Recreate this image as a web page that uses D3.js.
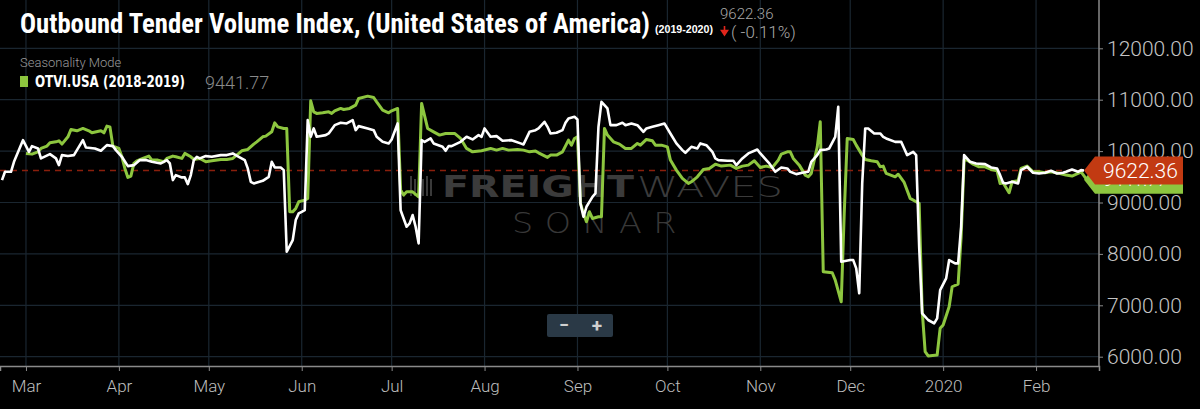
<!DOCTYPE html>
<html>
<head>
<meta charset="utf-8">
<script src="https://cdn.jsdelivr.net/npm/d3@7"></script>
<style>
  html, body { margin: 0; padding: 0; background: #000; }
  svg { display: block; }
</style>
</head>
<body>
<svg id="chart" width="1200" height="409"></svg>
<script>
// OTVI.USA 2019-2020 (white)
const currentDates = ["2019-02-21","2019-02-22","2019-02-24","2019-02-25","2019-02-28","2019-03-02","2019-03-03","2019-03-05","2019-03-06","2019-03-09","2019-03-11","2019-03-12","2019-03-13","2019-03-15","2019-03-17","2019-03-20","2019-03-21","2019-03-24","2019-03-26","2019-03-28","2019-03-30","2019-03-31","2019-04-02","2019-04-04","2019-04-06","2019-04-08","2019-04-10","2019-04-12","2019-04-15","2019-04-17","2019-04-18","2019-04-19","2019-04-20","2019-04-22","2019-04-23","2019-04-24","2019-04-25","2019-04-26","2019-04-27","2019-04-28","2019-04-30","2019-05-02","2019-05-05","2019-05-07","2019-05-09","2019-05-11","2019-05-13","2019-05-14","2019-05-15","2019-05-16","2019-05-19","2019-05-21","2019-05-22","2019-05-23","2019-05-25","2019-05-26","2019-05-27","2019-05-29","2019-05-30","2019-05-31","2019-06-01","2019-06-02","2019-06-03","2019-06-04","2019-06-05","2019-06-06","2019-06-09","2019-06-10","2019-06-12","2019-06-14","2019-06-16","2019-06-18","2019-06-19","2019-06-20","2019-06-23","2019-06-25","2019-06-26","2019-06-28","2019-06-30","2019-07-01","2019-07-03","2019-07-04","2019-07-06","2019-07-07","2019-07-08","2019-07-09","2019-07-10","2019-07-11","2019-07-12","2019-07-14","2019-07-15","2019-07-18","2019-07-19","2019-07-20","2019-07-21","2019-07-24","2019-07-26","2019-07-28","2019-07-30","2019-07-31","2019-08-01","2019-08-03","2019-08-05","2019-08-07","2019-08-10","2019-08-13","2019-08-14","2019-08-16","2019-08-18","2019-08-19","2019-08-21","2019-08-22","2019-08-23","2019-08-25","2019-08-27","2019-08-28","2019-08-29","2019-08-31","2019-09-01","2019-09-02","2019-09-03","2019-09-04","2019-09-06","2019-09-07","2019-09-08","2019-09-09","2019-09-11","2019-09-12","2019-09-14","2019-09-16","2019-09-17","2019-09-19","2019-09-21","2019-09-23","2019-09-24","2019-09-26","2019-09-28","2019-09-30","2019-10-02","2019-10-04","2019-10-06","2019-10-07","2019-10-09","2019-10-11","2019-10-12","2019-10-14","2019-10-16","2019-10-17","2019-10-18","2019-10-21","2019-10-23","2019-10-24","2019-10-26","2019-10-28","2019-10-31","2019-11-01","2019-11-03","2019-11-04","2019-11-06","2019-11-08","2019-11-10","2019-11-11","2019-11-13","2019-11-15","2019-11-17","2019-11-18","2019-11-20","2019-11-21","2019-11-23","2019-11-24","2019-11-26","2019-11-27","2019-11-28","2019-12-01","2019-12-02","2019-12-03","2019-12-04","2019-12-05","2019-12-06","2019-12-07","2019-12-09","2019-12-11","2019-12-12","2019-12-13","2019-12-16","2019-12-18","2019-12-19","2019-12-20","2019-12-22","2019-12-23","2019-12-24","2019-12-25","2019-12-27","2019-12-29","2019-12-30","2019-12-31","2020-01-02","2020-01-03","2020-01-05","2020-01-06","2020-01-07","2020-01-08","2020-01-10","2020-01-12","2020-01-15","2020-01-17","2020-01-19","2020-01-20","2020-01-21","2020-01-22","2020-01-24","2020-01-26","2020-01-27","2020-01-29","2020-01-31","2020-02-02","2020-02-04","2020-02-06","2020-02-08","2020-02-10","2020-02-11","2020-02-13","2020-02-15","2020-02-16","2020-02-17"];
const currentValues = [9436,9597,9597,9792,10213,9986,10097,10052,9858,9941,9858,9727,9922,9903,9922,10213,10071,10052,10006,10116,10097,10019,9889,9708,9727,9825,9825,9792,9760,9825,9760,9436,9533,9488,9488,9358,9533,9825,9889,9858,9903,9889,9922,9922,9955,9889,9825,9663,9403,9371,9422,9500,9792,9682,9682,9630,8042,8269,8658,8788,8819,8852,10602,10278,10441,10278,10311,10343,10505,10550,10538,10602,10408,10486,10441,10408,10278,10180,10149,10227,10538,8850,8528,8594,8755,8528,8205,10213,10180,10246,10149,10083,10006,10097,10097,10180,10278,10227,10311,10278,10441,10278,10291,10200,10213,10150,10130,10375,10408,10441,10570,10472,10343,10356,10408,10550,10635,10667,10615,8983,8722,8917,9111,9177,10472,10958,10830,10505,10505,10550,10505,10538,10505,10375,10441,10472,10505,10538,10343,10149,10019,9967,10083,10052,10149,10116,9986,9858,9825,9811,9811,9727,9858,9955,10032,9955,9825,9760,9597,9682,9663,9597,9552,9578,9597,9792,9922,10019,10032,10052,10278,10861,7847,7880,7880,7719,7233,9371,10441,10441,10343,10343,10278,10246,10180,10180,10052,9922,9986,9922,8139,6844,6714,6649,6747,7297,7524,7880,7816,7816,8528,9922,9792,9760,9746,9682,9663,9533,9384,9371,9403,9371,9630,9695,9578,9565,9578,9617,9565,9578,9597,9643,9597,9630,9622.36];

// OTVI.USA 2018-2019 seasonality (green)
const priorDates = ["2019-03-01","2019-03-03","2019-03-05","2019-03-06","2019-03-08","2019-03-09","2019-03-11","2019-03-12","2019-03-13","2019-03-15","2019-03-16","2019-03-18","2019-03-20","2019-03-22","2019-03-23","2019-03-26","2019-03-27","2019-03-28","2019-03-29","2019-03-30","2019-04-01","2019-04-02","2019-04-03","2019-04-04","2019-04-05","2019-04-06","2019-04-07","2019-04-09","2019-04-11","2019-04-12","2019-04-14","2019-04-16","2019-04-17","2019-04-19","2019-04-20","2019-04-22","2019-04-23","2019-04-25","2019-04-26","2019-04-28","2019-04-30","2019-05-02","2019-05-05","2019-05-07","2019-05-09","2019-05-11","2019-05-12","2019-05-14","2019-05-16","2019-05-17","2019-05-19","2019-05-20","2019-05-22","2019-05-23","2019-05-24","2019-05-26","2019-05-27","2019-05-28","2019-05-29","2019-05-30","2019-05-31","2019-06-02","2019-06-03","2019-06-04","2019-06-05","2019-06-06","2019-06-08","2019-06-10","2019-06-11","2019-06-12","2019-06-14","2019-06-15","2019-06-17","2019-06-19","2019-06-20","2019-06-23","2019-06-25","2019-06-26","2019-06-28","2019-06-30","2019-07-01","2019-07-03","2019-07-04","2019-07-05","2019-07-06","2019-07-08","2019-07-10","2019-07-11","2019-07-13","2019-07-15","2019-07-17","2019-07-19","2019-07-22","2019-07-24","2019-07-26","2019-07-28","2019-07-31","2019-08-03","2019-08-05","2019-08-07","2019-08-09","2019-08-12","2019-08-14","2019-08-16","2019-08-18","2019-08-19","2019-08-22","2019-08-23","2019-08-25","2019-08-27","2019-08-29","2019-08-30","2019-08-31","2019-09-01","2019-09-02","2019-09-03","2019-09-04","2019-09-05","2019-09-06","2019-09-08","2019-09-09","2019-09-10","2019-09-11","2019-09-13","2019-09-15","2019-09-17","2019-09-19","2019-09-21","2019-09-22","2019-09-24","2019-09-26","2019-09-27","2019-09-29","2019-10-01","2019-10-02","2019-10-04","2019-10-06","2019-10-08","2019-10-09","2019-10-11","2019-10-13","2019-10-15","2019-10-17","2019-10-19","2019-10-22","2019-10-24","2019-10-26","2019-10-28","2019-10-30","2019-11-01","2019-11-03","2019-11-05","2019-11-07","2019-11-08","2019-11-10","2019-11-11","2019-11-12","2019-11-14","2019-11-16","2019-11-17","2019-11-18","2019-11-20","2019-11-21","2019-11-22","2019-11-25","2019-11-26","2019-11-28","2019-11-29","2019-11-30","2019-12-02","2019-12-03","2019-12-05","2019-12-06","2019-12-08","2019-12-10","2019-12-11","2019-12-12","2019-12-13","2019-12-16","2019-12-17","2019-12-19","2019-12-21","2019-12-23","2019-12-24","2019-12-25","2019-12-26","2019-12-27","2019-12-30","2019-12-31","2020-01-01","2020-01-03","2020-01-04","2020-01-06","2020-01-07","2020-01-08","2020-01-09","2020-01-11","2020-01-13","2020-01-15","2020-01-17","2020-01-19","2020-01-20","2020-01-21","2020-01-23","2020-01-24","2020-01-26","2020-01-27","2020-01-29","2020-01-31","2020-02-02","2020-02-04","2020-02-06","2020-02-09","2020-02-11","2020-02-13","2020-02-15","2020-02-16","2020-02-18"];
const priorValues = [9955,9941,9986,10052,10097,10161,10180,10200,10136,10278,10421,10395,10441,10395,10356,10395,10356,10486,10472,10097,10052,9889,9663,9488,9514,9760,9811,9858,9903,9825,9825,9792,9858,9903,9889,9858,9955,9889,9838,9858,9792,9811,9838,9838,9858,9955,10006,10032,10136,10180,10278,10291,10375,10550,10472,10441,10441,8819,8819,8885,9014,9047,9080,10978,10764,10733,10745,10764,10733,10783,10830,10810,10830,10894,11024,11069,11043,10958,10797,10745,10783,10830,9241,9144,9208,9208,9111,10927,10441,10375,10311,10343,10343,10246,10052,9986,10006,10052,10019,10052,10019,10032,10019,9986,10000,9967,9877,9922,9922,9986,10213,10116,10246,10278,8983,8788,8625,8819,8690,8722,8722,10441,10311,10180,10136,10052,10052,10149,10116,10227,10200,10116,10116,10083,9825,9630,9468,9371,9403,9500,9643,9663,9746,9708,9727,9663,9708,9727,9811,9682,9708,9682,9825,9941,9986,9986,9858,9727,9533,9500,9565,10083,10570,7653,7633,7491,7069,8788,10246,10227,10116,9922,9838,9811,9792,9695,9708,9565,9500,9550,9390,9080,9014,8983,6908,6097,6014,6033,6552,6616,6972,7361,7414,8333,9825,9825,9746,9695,9695,9643,9617,9371,9384,9190,9403,9422,9663,9708,9597,9597,9578,9597,9565,9533,9514,9565,9597,9441.77];

const yTicks = [6000, 7000, 8000, 9000, 10000, 11000, 12000];
const currentLast = 9622.36;
const priorLast = 9441.77;
const changePct = "( -0.11%)";

const parse = d3.timeParse("%Y-%m-%d");
const current = currentDates.map((d, i) => ({date: parse(d), value: currentValues[i]}));
const prior = priorDates.map((d, i) => ({date: parse(d), value: priorValues[i]}));

const svg = d3.select("#chart");
const plotRight = 1099, plotBottom = 366;

const x = d3.scaleTime()
    .domain([new Date(2019, 1, 20, 8), new Date(2020, 1, 22)])
    .range([0, plotRight]);
const y = d3.scaleLinear()
    .domain([6000, 12000])
    .range([356.7, 48.3]);

svg.append("rect").attr("width", 1200).attr("height", 409).attr("fill", "#000");

const months = d3.timeMonth.range(new Date(2019, 2, 1), new Date(2020, 1, 22));

// grid
const grid = svg.append("g");
grid.selectAll(".gx").data(months).enter().append("line")
    .attr("x1", d => x(d)).attr("x2", d => x(d))
    .attr("y1", 0).attr("y2", plotBottom)
    .attr("stroke", "#1a2630").attr("stroke-width", 1.2);
grid.selectAll(".gy").data(yTicks).enter().append("line")
    .attr("x1", 0).attr("x2", plotRight)
    .attr("y1", d => y(d)).attr("y2", d => y(d))
    .attr("stroke", "#1a2630").attr("stroke-width", 1.2);

// watermark
const wm = svg.append("g");
for (let i = 0; i < 6; i++) {
    wm.append("rect").attr("x", 410 + i * 4).attr("y", 176 + (i % 2 ? 3 : 0))
        .attr("width", 2).attr("height", 20 - (i % 2 ? 3 : 0)).attr("fill", "#3a3a3a");
}
wm.append("text").attr("x", 442).attr("y", 197).text("FREIGHT")
    .attr("font-family", "DejaVu Sans").attr("font-weight", "bold").attr("font-size", 30)
    .attr("fill", "#3b3b3b").attr("textLength", 192).attr("lengthAdjust", "spacingAndGlyphs");
wm.append("text").attr("x", 637).attr("y", 197).text("WAVES")
    .attr("font-family", "DejaVu Sans").attr("font-weight", 200).attr("font-size", 29)
    .attr("fill", "#3b3b3b").attr("textLength", 146).attr("lengthAdjust", "spacingAndGlyphs");
wm.append("text").attr("x", 512).attr("y", 233).text("SONAR")
    .attr("font-family", "DejaVu Sans").attr("font-weight", 200).attr("font-size", 29)
    .attr("letter-spacing", 10)
    .attr("fill", "#383838").attr("textLength", 176).attr("lengthAdjust", "spacingAndGlyphs");

// reference dashed line at current value
svg.append("line")
    .attr("x1", 0).attr("x2", plotRight)
    .attr("y1", y(currentLast)).attr("y2", y(currentLast))
    .attr("stroke", "#8a1f0c").attr("stroke-width", 1.3).attr("stroke-dasharray", "6,5");

const line = d3.line().x(d => x(d.date)).y(d => y(d.value));

svg.append("path").datum(prior)
    .attr("d", line).attr("fill", "none")
    .attr("stroke", "#8dc63f").attr("stroke-width", 3).attr("stroke-linejoin", "round");
svg.append("path").datum(current)
    .attr("d", line).attr("fill", "none")
    .attr("stroke", "#ffffff").attr("stroke-width", 2.6).attr("stroke-linejoin", "round");

// axes
const xAxis = d3.axisBottom(x).tickValues(months).tickSize(5)
    .tickFormat(d => d.getMonth() === 0 ? d3.timeFormat("%Y")(d) : d3.timeFormat("%b")(d));
const gx = svg.append("g").attr("transform", `translate(0,${plotBottom})`).call(xAxis);
gx.select(".domain").attr("stroke", "#8a8a8a").attr("stroke-width", 1.5);
gx.selectAll(".tick line").attr("stroke", "#8a8a8a");
gx.selectAll(".tick text").attr("fill", "#bdbdbd").attr("font-size", 17)
    .attr("font-family", "Roboto, sans-serif").attr("font-weight", 300).attr("dy", "1.05em");

const yAxis = d3.axisRight(y).tickValues(yTicks).tickSize(4).tickPadding(4)
    .tickFormat(d3.format(".2f"));
const gy = svg.append("g").attr("transform", `translate(${plotRight},0)`).call(yAxis);
gy.select(".domain").remove();
gy.selectAll(".tick line").attr("stroke", "#8a8a8a");
gy.selectAll(".tick text").attr("fill", "#c4c4c4").attr("font-size", 21)
    .attr("font-family", "Roboto, sans-serif").attr("font-weight", 300);
svg.append("line").attr("x1", plotRight).attr("x2", plotRight)
    .attr("y1", 0).attr("y2", plotBottom).attr("stroke", "#8a8a8a").attr("stroke-width", 1.5);

// value tags on the right axis
function tag(value, yc, fill, size) {
    const tipX = x(current[current.length - 1].date);
    const g = svg.append("g");
    g.append("path")
        .attr("d", `M${tipX},${yc} L${tipX + 11},${yc - 14} L1183,${yc - 14} L1183,${yc + 14} L${tipX + 11},${yc + 14} Z`)
        .attr("fill", fill);
    g.append("text").attr("x", 1103).attr("y", yc + size / 3).text(d3.format(".2f")(value))
        .attr("fill", "#fff").attr("font-size", size)
        .attr("font-family", "Roboto, sans-serif").attr("font-weight", 300);
}
tag(priorLast, y(priorLast), "#8dc63f", 18);
tag(currentLast, y(currentLast), "#c23a12", 21);

// header
const title = svg.append("g");
title.append("text").attr("x", 20).attr("y", 33)
    .text("Outbound Tender Volume Index, (United States of America)")
    .attr("fill", "#fff").attr("font-size", 27).attr("font-weight", "bold")
    .attr("font-family", "'Roboto Condensed', 'Liberation Sans Narrow', 'DejaVu Sans Condensed', sans-serif")
    .attr("textLength", 630).attr("lengthAdjust", "spacingAndGlyphs");
title.append("text").attr("x", 655).attr("y", 33).text("(2019-2020)")
    .attr("fill", "#fff").attr("font-size", 10).attr("font-weight", "bold")
    .attr("font-family", "'Liberation Sans Narrow', sans-serif")
    .attr("textLength", 58).attr("lengthAdjust", "spacingAndGlyphs");
title.append("text").attr("x", 720).attr("y", 19).text(d3.format(".2f")(currentLast))
    .attr("fill", "#a8a8a8").attr("font-size", 15).attr("font-family", "Roboto, sans-serif")
    .attr("font-weight", 300);
title.append("path").attr("d", "M724.5,26 L724.5,31 M721.5,30.5 L727.5,30.5 L724.5,35 Z")
    .attr("stroke", "#e3261c").attr("stroke-width", 1.6).attr("fill", "#e3261c");
title.append("text").attr("x", 731).attr("y", 38).text(changePct)
    .attr("fill", "#a8a8a8").attr("font-size", 17).attr("font-family", "Roboto, sans-serif")
    .attr("font-weight", 300);

title.append("text").attr("x", 20).attr("y", 67).text("Seasonality Mode")
    .attr("fill", "#9a9a9a").attr("font-size", 13).attr("font-family", "Roboto, sans-serif")
    .attr("font-weight", 300);
title.append("rect").attr("x", 20).attr("y", 76).attr("width", 8).attr("height", 11).attr("fill", "#8dc63f");
title.append("text").attr("x", 35).attr("y", 87).text("OTVI.USA (2018-2019)")
    .attr("fill", "#fff").attr("font-size", 15).attr("font-weight", "bold")
    .attr("font-family", "'Liberation Sans Narrow', 'DejaVu Sans Condensed', sans-serif")
    .attr("textLength", 150).attr("lengthAdjust", "spacingAndGlyphs");
title.append("text").attr("x", 205).attr("y", 89).text(d3.format(".2f")(priorLast))
    .attr("fill", "#8a8a8a").attr("font-size", 18).attr("font-family", "Roboto, sans-serif")
    .attr("font-weight", 300);

// zoom control
const zc = svg.append("g");
zc.append("rect").attr("x", 547).attr("y", 314).attr("width", 66).attr("height", 23)
    .attr("rx", 2).attr("fill", "#2a3946");
zc.append("text").attr("x", 564).attr("y", 331).text("−").attr("text-anchor", "middle")
    .attr("fill", "#d0d0d0").attr("font-size", 18).attr("font-weight", "bold").attr("font-family", "Roboto, sans-serif");
zc.append("text").attr("x", 597).attr("y", 332).text("+").attr("text-anchor", "middle")
    .attr("fill", "#d0d0d0").attr("font-size", 19).attr("font-weight", "bold").attr("font-family", "Roboto, sans-serif");
</script>
</body>
</html>
